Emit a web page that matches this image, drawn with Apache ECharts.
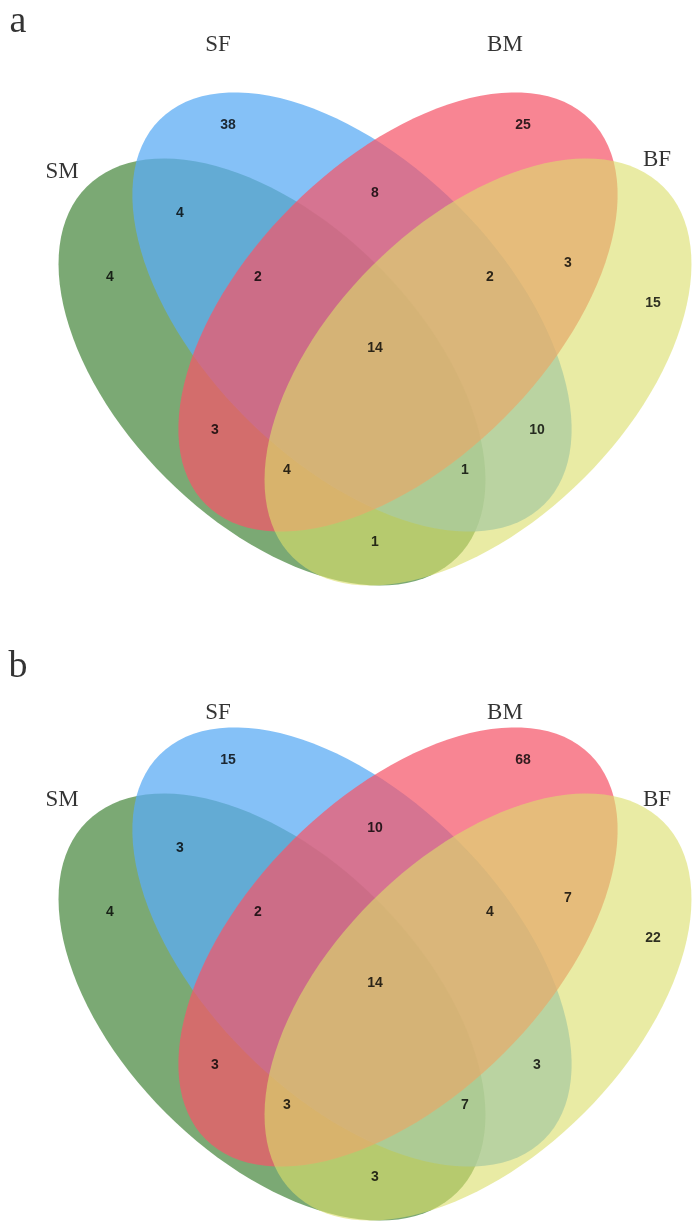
<!DOCTYPE html>
<html><head><meta charset="utf-8">
<script src="https://cdn.jsdelivr.net/npm/echarts@6/dist/echarts.min.js"></script>
<style>html,body{margin:0;padding:0;background:#fff}#c{width:699px;height:1230px}</style>
</head><body><div id="c"></div>
<script>
// Set names and counts per region
const setNames = ['SM','SF','BM','BF'];
const setColors = ['#4f8c45','#5cacf4','#f5566a','#dcdf6c'];
const setOpacity = [0.75,0.75,0.72,0.62];
// region order: SF-only, BM-only, SF∩BM, SM∩SF, BM∩BF, SM-only, SM∩SF∩BM, SF∩BM∩BF, BF-only, all, SM∩BM, SF∩BF, SM∩BM∩BF, SM∩SF∩BF, SM∩BF
const countsA = [38,25,8,4,3,4,2,2,15,14,3,10,4,1,1];
const countsB = [15,68,10,3,7,4,2,4,22,14,3,3,3,7,3];
const panelLabels = ['a','b'];

// layout (pixel geometry of the diagram)
const offsets = [0, 635];
const ellipses = [[272,372,262,150,45],[352,312,272,150,45],[398,312,272,150,-45],[478,372,262,150,-45]];
const regionPos = [[228,125],[523,125],[375,193],[180,213],[568,263],[110,277],[258,277],[490,277],[653,303],[375,348],[215,430],[537,430],[287,470],[465,470],[375,542]];
const namePos = [[62,172],[218,45],[505,45],[657,160]];
const namePosB = [[62,800],[218,713],[505,713],[657,800]];

const ellData = [], numData = [], nameData = [], letterData = [];
offsets.forEach((oy, p) => {
  ellipses.forEach((e, i) => ellData.push([e[0], e[1]+oy, e[2], e[3], e[4], i]));
  const counts = p === 0 ? countsA : countsB;
  counts.forEach((v, i) => numData.push([regionPos[i][0], regionPos[i][1]+oy, v]));
  const np = p === 0 ? namePos : namePosB;
  setNames.forEach((n, i) => nameData.push([np[i][0], np[i][1], n]));
  letterData.push([18, 22+oy+(p?10:0), panelLabels[p]]);
});

const chart = echarts.init(document.getElementById('c'));
const txt = (data, font, size, weight) => ({
  type:'scatter', data, symbolSize:0, silent:true, z:10,
  label:{show:true, position:'inside', formatter:p=>p.value[2], color:'#000',
    fontFamily:font, fontSize:size, fontWeight:weight}
});
chart.setOption({
  animation:false,
  grid:{left:0,right:0,top:0,bottom:0},
  xAxis:{type:'value',min:0,max:699,show:false},
  yAxis:{type:'value',min:0,max:1230,inverse:true,show:false},
  series:[
    {type:'custom', data:ellData, silent:true,
     renderItem:(params, api) => {
       const cx=api.value(0), cy=api.value(1), rx=api.value(2), ry=api.value(3), a=api.value(4)*Math.PI/180, s=api.value(5);
       const pts=[];
       for(let k=0;k<120;k++){
         const t=k/120*2*Math.PI, x=rx*Math.cos(t), y=ry*Math.sin(t);
         pts.push(api.coord([cx+x*Math.cos(a)-y*Math.sin(a), cy+x*Math.sin(a)+y*Math.cos(a)]));
       }
       return {type:'polygon', shape:{points:pts}, style:{fill:setColors[s], opacity:setOpacity[s]}};
     }},
    txt(numData,'Liberation Sans',14,'bold'),
    txt(nameData,'Liberation Serif',23,'normal'),
    txt(letterData,'Liberation Serif',38,'normal')
  ]
});
</script></body></html>
